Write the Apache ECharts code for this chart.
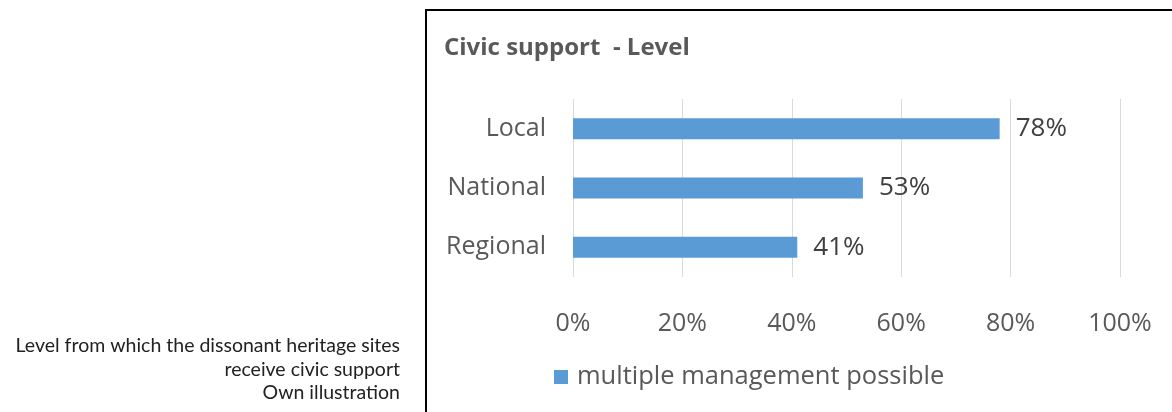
<!DOCTYPE html>
<html>
<head>
<meta charset="utf-8">
<script src="https://cdn.jsdelivr.net/npm/echarts@6/dist/echarts.min.js"></script>
<style>
  html, body { margin: 0; padding: 0; background: #fff; }
  #main { width: 1172px; height: 412px; }
</style>
</head>
<body>
<div id="main"></div>
<script>
  var categories = ['Local', 'National', 'Regional'];
  var values = [78, 53, 41];
  var seriesName = 'multiple management possible';
  var captionLines = ['Level from which the dissonant heritage sites', 'receive civic support', 'Own illustration'];

  var font = '"Open Sans", "Noto Sans", sans-serif';
  var chart = echarts.init(document.getElementById('main'));

  // caption on the left, right aligned
  var caption = captionLines.map(function (line, i) {
    return {
      type: 'text',
      x: 400,
      y: 346 + i * 23.5,
      silent: true,
      style: {
        text: line,
        align: 'right',
        verticalAlign: 'middle',
        fontFamily: 'Lato, "Open Sans", sans-serif',
        fontSize: 19.5,
        fill: '#222'
      }
    };
  });

  chart.setOption({
    animation: false,
    color: ['#5b9bd5'],
    title: {
      text: 'Civic support  - Level',
      left: 439,
      top: 31,
      textStyle: { fontFamily: font, fontSize: 24, fontWeight: 'bold', color: '#595959' }
    },
    legend: {
      data: [seriesName],
      left: 549,
      top: 359,
      icon: 'rect',
      itemWidth: 14,
      itemHeight: 14,
      textStyle: { fontFamily: font, fontSize: 25.5, color: '#595959', padding: [0, 0, 0, 4] }
    },
    grid: { left: 573, right: 52, top: 99, bottom: 135 },
    xAxis: {
      type: 'value',
      min: 0,
      max: 100,
      interval: 20,
      axisLine: { show: false },
      axisTick: { show: false },
      axisLabel: { formatter: '{value}%', margin: 34, fontFamily: font, fontSize: 25, color: '#595959' },
      splitLine: { lineStyle: { color: '#d9d9d9', width: 1 } }
    },
    yAxis: {
      type: 'category',
      data: categories,
      inverse: true,
      axisLine: { show: false },
      axisTick: { show: false },
      axisLabel: { margin: 27, fontFamily: font, fontSize: 25, color: '#595959' }
    },
    series: [{
      name: seriesName,
      type: 'bar',
      data: values,
      barWidth: 21,
      label: {
        show: true,
        position: 'right',
        distance: 16,
        formatter: '{c}%',
        fontFamily: font,
        fontSize: 26,
        color: '#404040'
      }
    }],
    graphic: [
      {
        type: 'rect',
        shape: { x: 426, y: 10, width: 800, height: 450 },
        style: { fill: 'none', stroke: '#000', lineWidth: 2 },
        silent: true
      }
    ].concat(caption)
  });
</script>
</body>
</html>
